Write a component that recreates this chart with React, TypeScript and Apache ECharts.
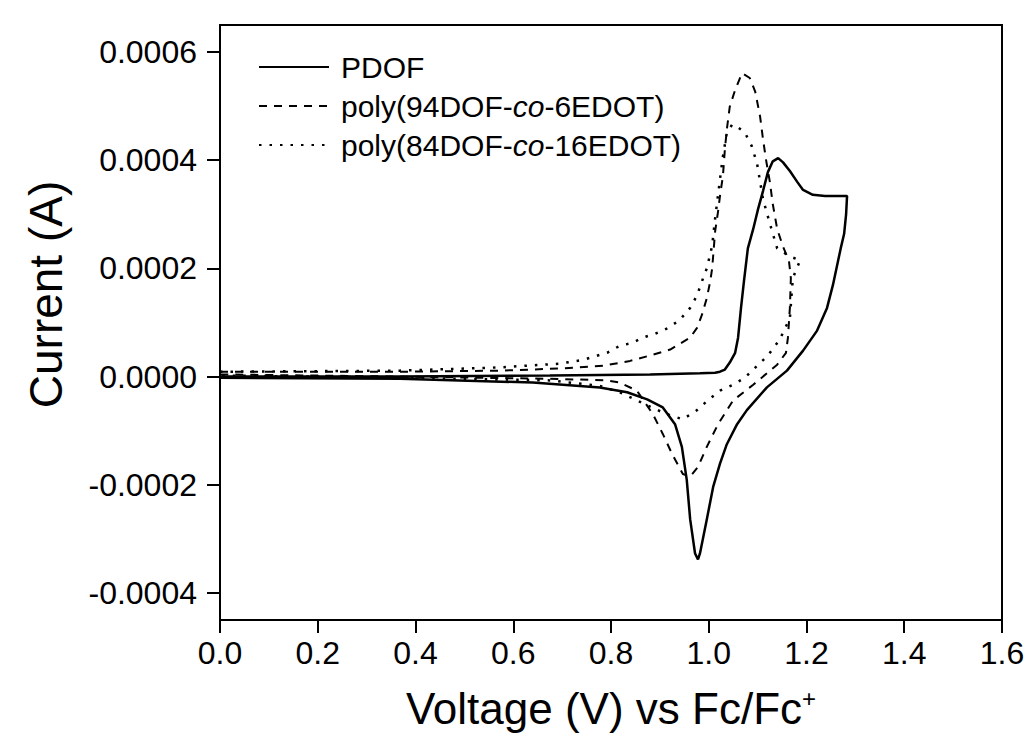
import React, { useEffect, useRef } from "react";
import * as echarts from "echarts";

// Voltage (V vs Fc/Fc+), Current (A), in sweep order
const seriesNames = ["PDOF", "poly(94DOF-co-6EDOT)", "poly(84DOF-co-16EDOT)"];

const pdof: [number, number][] = [
  [0.0, 0.0], [0.368, 0.0], [0.675, 0.02e-4], [0.88, 0.04e-4], [0.982, 0.06e-4],
  [1.013, 0.07e-4], [1.023, 0.09e-4], [1.033, 0.13e-4], [1.043, 0.26e-4], [1.054, 0.44e-4],
  [1.06, 0.72e-4], [1.066, 1.27e-4], [1.072, 1.76e-4], [1.08, 2.37e-4], [1.091, 2.73e-4],
  [1.101, 3.1e-4], [1.111, 3.43e-4], [1.121, 3.78e-4], [1.131, 3.98e-4], [1.142, 4.04e-4],
  [1.152, 3.96e-4], [1.166, 3.8e-4], [1.181, 3.6e-4], [1.193, 3.45e-4], [1.213, 3.36e-4],
  [1.238, 3.34e-4], [1.283, 3.34e-4], [1.281, 3.0e-4], [1.277, 2.64e-4], [1.27, 2.37e-4],
  [1.254, 1.69e-4], [1.242, 1.27e-4], [1.221, 0.84e-4], [1.193, 0.48e-4], [1.16, 0.11e-4],
  [1.119, -0.2e-4], [1.078, -0.62e-4], [1.058, -0.88e-4], [1.037, -1.25e-4], [1.023, -1.61e-4],
  [1.009, -2.04e-4], [0.996, -2.64e-4], [0.982, -3.27e-4], [0.978, -3.38e-4], [0.972, -3.27e-4],
  [0.962, -2.64e-4], [0.955, -1.91e-4], [0.945, -1.3e-4], [0.931, -0.88e-4], [0.906, -0.57e-4],
  [0.874, -0.42e-4], [0.833, -0.29e-4], [0.777, -0.2e-4], [0.64, -0.11e-4], [0.368, -0.04e-4],
  [0.0, -0.02e-4],
];

const co6: [number, number][] = [
  [0.0, 0.09e-4], [0.368, 0.09e-4], [0.573, 0.11e-4], [0.696, 0.15e-4], [0.784, 0.2e-4],
  [0.839, 0.29e-4], [0.88, 0.39e-4], [0.921, 0.5e-4], [0.962, 0.72e-4], [0.976, 0.9e-4],
  [0.986, 1.14e-4], [0.996, 1.45e-4], [1.003, 1.76e-4], [1.007, 2.0e-4], [1.013, 2.68e-4],
  [1.019, 3.05e-4], [1.023, 3.34e-4], [1.029, 3.71e-4], [1.033, 4.2e-4], [1.037, 4.57e-4],
  [1.043, 4.99e-4], [1.054, 5.3e-4], [1.068, 5.61e-4], [1.084, 5.52e-4], [1.095, 5.27e-4],
  [1.105, 4.81e-4], [1.111, 4.39e-4], [1.117, 4.02e-4], [1.125, 3.6e-4], [1.131, 3.19e-4],
  [1.14, 2.73e-4], [1.152, 2.4e-4], [1.164, 2.15e-4], [1.168, 1.82e-4], [1.166, 1.27e-4],
  [1.162, 0.72e-4], [1.158, 0.44e-4], [1.14, 0.22e-4], [1.091, -0.15e-4], [1.05, -0.44e-4],
  [1.019, -0.88e-4], [0.996, -1.3e-4], [0.978, -1.67e-4], [0.962, -1.85e-4], [0.947, -1.8e-4],
  [0.925, -1.43e-4], [0.906, -1.06e-4], [0.886, -0.7e-4], [0.853, -0.26e-4], [0.818, -0.11e-4],
  [0.792, -0.07e-4], [0.675, -0.04e-4], [0.368, 0.0], [0.0, 0.04e-4],
];

const co16: [number, number][] = [
  [0.0, 0.09e-4], [0.368, 0.11e-4], [0.573, 0.17e-4], [0.696, 0.24e-4], [0.743, 0.31e-4],
  [0.792, 0.44e-4], [0.818, 0.57e-4], [0.843, 0.62e-4], [0.865, 0.72e-4], [0.89, 0.79e-4],
  [0.917, 0.9e-4], [0.941, 1.05e-4], [0.962, 1.27e-4], [0.976, 1.5e-4], [0.986, 1.76e-4],
  [0.996, 2.0e-4], [1.007, 2.42e-4], [1.013, 2.92e-4], [1.023, 3.65e-4], [1.029, 4.07e-4],
  [1.037, 4.51e-4], [1.048, 4.66e-4], [1.058, 4.62e-4], [1.074, 4.51e-4], [1.088, 4.26e-4],
  [1.099, 3.93e-4], [1.111, 3.28e-4], [1.125, 2.83e-4], [1.14, 2.37e-4], [1.166, 2.22e-4],
  [1.187, 2.15e-4], [1.172, 1.82e-4], [1.166, 1.08e-4], [1.145, 0.68e-4], [1.121, 0.39e-4],
  [1.099, 0.2e-4], [1.074, -0.02e-4], [1.05, -0.15e-4], [1.023, -0.26e-4], [0.998, -0.44e-4],
  [0.976, -0.62e-4], [0.947, -0.79e-4], [0.91, -0.68e-4], [0.874, -0.53e-4], [0.818, -0.29e-4],
  [0.777, -0.17e-4], [0.675, -0.07e-4], [0.368, -0.02e-4], [0.0, 0.02e-4],
];

const yTicks = [-0.0004, -0.0002, 0, 0.0002, 0.0004, 0.0006];

const FONT = "'Liberation Sans', Arial, Helvetica, sans-serif";

export default function App() {
  const ref = useRef<HTMLDivElement>(null);
  useEffect(() => {
    if (!ref.current) return;
    const chart = echarts.init(ref.current, null, { renderer: "svg" });
    const lineSeries = (name: string, data: [number, number][], type: any, width: number) => ({
      name,
      type: "line",
      data,
      symbol: "none",
      showSymbol: false,
      smooth: false,
      lineStyle: { color: "#000", width, type },
      itemStyle: { color: "#000" },
    });
    chart.setOption({
      animation: false,
      backgroundColor: "#fff",
      textStyle: { fontFamily: FONT },
      grid: {
        left: 220,
        right: 29,
        top: 25,
        bottom: 111,
        show: true,
        borderColor: "#000",
        borderWidth: 2,
        backgroundColor: "transparent",
      },
      legend: {
        show: true,
        orient: "vertical",
        left: 258,
        top: 52,
        padding: 0,
        itemWidth: 70,
        itemHeight: 14,
        itemGap: 9,
        selectedMode: false,
        itemStyle: { opacity: 0 },
        data: seriesNames,
        formatter: (name: string) => {
          const i = name.indexOf("-co-");
          if (i < 0) return "{s|}{n|" + name + "}";
          return "{s|}{n|" + name.slice(0, i) + "-}{i|co}{n|-" + name.slice(i + 4) + "}";
        },
        textStyle: {
          fontSize: 30,
          color: "#000",
          fontFamily: FONT,
          rich: {
            s: { width: 7 },
            n: { fontSize: 30, color: "#000", fontFamily: FONT },
            i: { fontSize: 30, color: "#000", fontFamily: FONT, fontStyle: "italic" },
          },
        },
      },
      xAxis: {
        type: "value",
        min: 0,
        max: 1.6,
        interval: 0.2,
        name: "Voltage (V) vs Fc/Fc{sup|+}",
        nameLocation: "middle",
        nameGap: 66,
        nameTextStyle: {
          fontSize: 44,
          color: "#000",
          fontFamily: FONT,
          rich: {
            sup: { fontSize: 24, color: "#000", fontFamily: FONT, verticalAlign: "top" },
          },
        },
        axisLine: { show: true, onZero: false, lineStyle: { color: "#000", width: 2 } },
        axisTick: { show: true, length: 13, lineStyle: { color: "#000", width: 2 } },
        axisLabel: {
          fontSize: 32,
          color: "#000",
          fontFamily: FONT,
          margin: 17,
          formatter: (v: number) => v.toFixed(1),
        },
        splitLine: { show: false },
      },
      yAxis: {
        type: "value",
        min: -0.00045,
        max: 0.00065,
        name: "Current (A)",
        nameLocation: "middle",
        nameGap: 151,
        nameTextStyle: { fontSize: 46, color: "#000", fontFamily: FONT, padding: [0, 0, 0, 56] },
        axisLine: { show: true, onZero: false, lineStyle: { color: "#000", width: 2 } },
        axisTick: {
          show: true,
          length: 13,
          customValues: yTicks,
          lineStyle: { color: "#000", width: 2 },
        },
        axisLabel: {
          fontSize: 32,
          color: "#000",
          fontFamily: FONT,
          margin: 23,
          customValues: yTicks,
          formatter: (v: number) => v.toFixed(4),
        },
        splitLine: { show: false },
      },
      series: [
        lineSeries(seriesNames[0], pdof, "solid", 2.5),
        lineSeries(seriesNames[1], co6, [8, 7], 2),
        lineSeries(seriesNames[2], co16, [2.5, 8], 2.5),
      ],
    });
    return () => chart.dispose();
  }, []);
  return (
    <div
      ref={ref}
      style={{ position: "fixed", left: 0, top: 0, width: 1031, height: 735, background: "#fff" }}
    />
  );
}
